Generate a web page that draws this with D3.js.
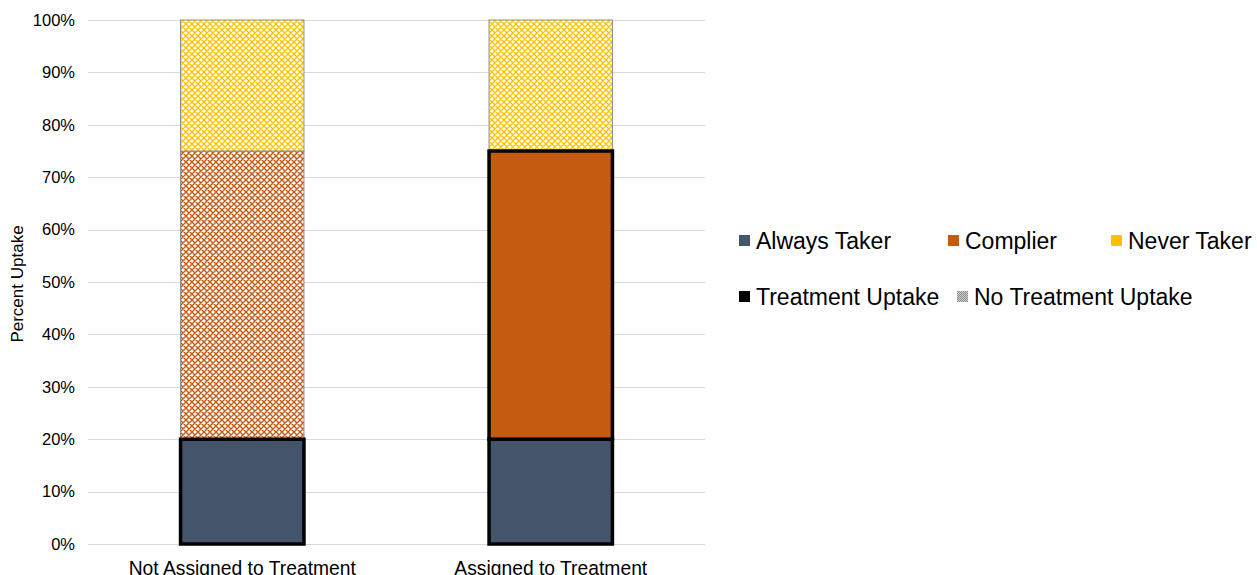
<!DOCTYPE html>
<html>
<head>
<meta charset="utf-8">
<script src="https://cdn.jsdelivr.net/npm/d3@7"></script>
<style>
  html, body { margin: 0; padding: 0; background: #fff; }
  svg { display: block; font-family: "Liberation Sans", Arial, sans-serif; }
</style>
</head>
<body>
<svg id="chart" width="1257" height="575"></svg>
<script>
// Groups along the x axis
const categories = ["Not Assigned to Treatment", "Assigned to Treatment"];
// Compliance types, stacked bottom to top
const types = ["Always Taker", "Complier", "Never Taker"];
// Share of each type (percent) per group
const alwaysTaker = [20, 20];
const complier = [55, 55];
const neverTaker = [25, 25];
// Whether the segment takes up treatment (solid + bold outline) or not (hatched)
const uptakeAlways = [true, true];
const uptakeComplier = [false, true];
const uptakeNever = [false, false];
// Axis ticks
const yTicks = [0, 10, 20, 30, 40, 50, 60, 70, 80, 90, 100];

const colors = { "Always Taker": "#44546a", "Complier": "#c55a11", "Never Taker": "#ffc000" };
const FONT = "Liberation Sans, Arial, sans-serif";

const svg = d3.select("#chart");
const margin = { left: 88, right: 552, top: 20, bottom: 31 };
const W = 1257, H = 575;
const plotW = W - margin.left - margin.right;
const plotH = H - margin.top - margin.bottom;

const x = d3.scaleBand().domain(categories).range([margin.left, margin.left + plotW]).paddingInner(0.6).paddingOuter(0.3);
const y = d3.scaleLinear().domain([0, 100]).range([margin.top + plotH, margin.top]);

// Lattice hatch patterns for segments without treatment uptake
const defs = svg.append("defs");
function lattice(id, color) {
  const p = defs.append("pattern").attr("id", id).attr("patternUnits", "userSpaceOnUse")
    .attr("width", 6).attr("height", 6);
  p.append("rect").attr("width", 6).attr("height", 6).attr("fill", "#fff");
  p.append("path").attr("d", "M0,0 L6,6 M6,0 L0,6 M-1,5 L1,7 M5,-1 L7,1 M-1,1 L1,-1 M5,7 L7,5")
    .attr("stroke", color).attr("stroke-width", 1.4).attr("fill", "none");
}
types.forEach((t, i) => lattice("hatch" + i, colors[t]));

// Fine grey checker for the "no uptake" legend key
const checker = defs.append("pattern").attr("id", "checkerGrey").attr("patternUnits", "userSpaceOnUse")
  .attr("width", 2).attr("height", 2);
checker.append("rect").attr("width", 2).attr("height", 2).attr("fill", "#d0d0d0");
checker.append("rect").attr("width", 1).attr("height", 1).attr("fill", "#8a8a8a");
checker.append("rect").attr("x", 1).attr("y", 1).attr("width", 1).attr("height", 1).attr("fill", "#8a8a8a");

// Gridlines
svg.append("g").selectAll("line").data(yTicks).join("line")
  .attr("x1", margin.left).attr("x2", margin.left + plotW)
  .attr("y1", d => Math.round(y(d)) + 0.5).attr("y2", d => Math.round(y(d)) + 0.5)
  .attr("stroke", "#d9d9d9").attr("stroke-width", 1);

// Y axis labels
const yAxis = d3.axisLeft(y).tickValues(yTicks).tickFormat(d => d + "%").tickSize(0).tickPadding(13);
const ya = svg.append("g").attr("transform", `translate(${margin.left},0)`).call(yAxis);
ya.select(".domain").remove();
ya.selectAll("text").attr("font-size", 16.5).attr("fill", "#000").attr("font-family", FONT);

// X axis labels
const xAxis = d3.axisBottom(x).tickSize(0).tickPadding(17);
const xa = svg.append("g").attr("transform", `translate(0,${margin.top + plotH})`).call(xAxis);
xa.select(".domain").remove();
xa.selectAll("text").attr("font-size", 19.3).attr("fill", "#000").attr("font-family", FONT);

// Axis title
svg.append("text").attr("transform", `translate(23,${margin.top + plotH / 2 + 2}) rotate(-90)`)
  .attr("text-anchor", "middle").attr("font-size", 17).attr("font-family", FONT)
  .attr("fill", "#000").text("Percent Uptake");

// Stacked bars
const values = [alwaysTaker, complier, neverTaker];
const uptake = [uptakeAlways, uptakeComplier, uptakeNever];
const segs = [];
categories.forEach((c, ci) => {
  let base = 0;
  types.forEach((t, ti) => {
    const v = values[ti][ci];
    segs.push({ cat: c, type: t, ti, y0: base, y1: base + v, up: uptake[ti][ci] });
    base += v;
  });
});
// Hatched segments first, so bold outlines sit on top
segs.sort((a, b) => a.up - b.up);
svg.append("g").selectAll("rect").data(segs).join("rect")
  .attr("x", d => x(d.cat))
  .attr("width", x.bandwidth())
  .attr("y", d => y(d.y1))
  .attr("height", d => y(d.y0) - y(d.y1))
  .attr("fill", d => d.up ? colors[d.type] : `url(#hatch${d.ti})`)
  .attr("stroke", d => d.up ? "#000" : "#8c8c8c")
  .attr("stroke-width", d => d.up ? 3.5 : 1);

// Legend
const legend = svg.append("g").attr("font-size", 23).attr("font-family", FONT).attr("fill", "#000");
const legendItems = [
  { label: "Always Taker", fill: colors["Always Taker"], x: 739, y: 241 },
  { label: "Complier", fill: colors["Complier"], x: 948, y: 241 },
  { label: "Never Taker", fill: colors["Never Taker"], x: 1111, y: 241 },
  { label: "Treatment Uptake", fill: "#000", x: 739, y: 297 },
  { label: "No Treatment Uptake", fill: "url(#checkerGrey)", x: 957, y: 297 }
];
const li = legend.selectAll("g").data(legendItems).join("g")
  .attr("transform", d => `translate(${d.x},${d.y})`);
li.append("rect").attr("x", 0).attr("y", -6).attr("width", 11).attr("height", 11).attr("fill", d => d.fill);
li.append("text").attr("x", 17).attr("y", 7.5).text(d => d.label);
</script>
</body>
</html>
